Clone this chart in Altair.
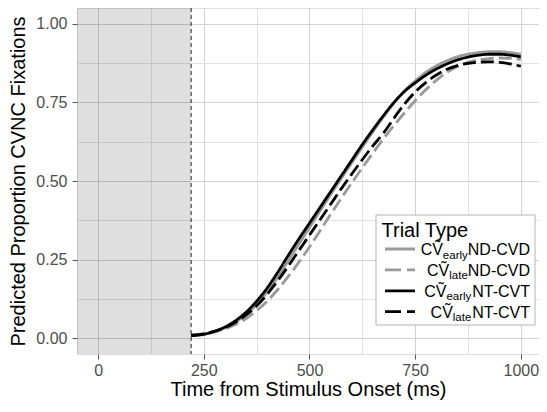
import altair as alt
import pandas as pd

# ---------------- data ----------------
time_ms = [220, 250, 275, 300, 325, 350, 375, 400, 425, 450, 475, 500, 525, 550, 575, 600,
           625, 650, 675, 700, 725, 750, 775, 800, 825, 850, 875, 900, 925, 950, 975, 1000]

early_nd_cvd = [0.008, 0.012, 0.020, 0.033, 0.051, 0.076, 0.108, 0.148, 0.195, 0.247, 0.300, 0.352,
                0.405, 0.457, 0.508, 0.558, 0.608, 0.657, 0.704, 0.748, 0.787, 0.818, 0.845, 0.866,
                0.882, 0.895, 0.903, 0.908, 0.911, 0.911, 0.908, 0.903]
late_nd_cvd = [0.010, 0.013, 0.020, 0.030, 0.044, 0.063, 0.088, 0.118, 0.155, 0.197, 0.242, 0.290,
               0.342, 0.394, 0.445, 0.494, 0.542, 0.589, 0.634, 0.677, 0.717, 0.755, 0.790, 0.820,
               0.845, 0.864, 0.877, 0.885, 0.889, 0.891, 0.890, 0.887]
early_nt_cvt = [0.008, 0.013, 0.022, 0.036, 0.056, 0.083, 0.118, 0.160, 0.210, 0.264, 0.316, 0.366,
                0.416, 0.466, 0.516, 0.566, 0.616, 0.663, 0.708, 0.750, 0.785, 0.812, 0.836, 0.856,
                0.872, 0.885, 0.894, 0.900, 0.903, 0.903, 0.900, 0.895]
late_nt_cvt = [0.010, 0.014, 0.022, 0.034, 0.051, 0.074, 0.103, 0.140, 0.183, 0.230, 0.279, 0.328,
               0.377, 0.426, 0.475, 0.522, 0.568, 0.612, 0.652, 0.700, 0.745, 0.783, 0.813, 0.837,
               0.855, 0.867, 0.874, 0.878, 0.879, 0.877, 0.872, 0.865]

series_keys = ["early_ND", "late_ND", "early_NT", "late_NT"]
series_values = [early_nd_cvd, late_nd_cvd, early_nt_cvt, late_nt_cvt]
series_colors = ["#999999", "#999999", "#000000", "#000000"]
series_dashes = [[1, 0], [13, 5], [1, 0], [13, 5]]
legend_dashes = [[1, 0], [16, 6], [1, 0], [16, 6]]

legend_title = "Trial Type"
legend_main = ["C\u1e7c", "C\u1e7c", "C\u1e7c", "C\u1e7c"]
legend_sub = ["early", "late", "early", "late"]
legend_suffix = ["ND-CVD", "ND-CVD", "NT-CVT", "NT-CVT"]

x_grid = [0, 125, 250, 375, 500, 625, 750, 875, 1000]
y_grid = [0.0, 0.125, 0.25, 0.375, 0.5, 0.625, 0.75, 0.875, 1.0]
x_domain = [-50, 1043]
y_domain = [-0.05, 1.05]
shade_end = 220

rows = []
for key, vals in zip(series_keys, series_values):
    for t, v in zip(time_ms, vals):
        rows.append({"series": key, "t": t, "p": v})
df = pd.DataFrame(rows)

# ---------------- layout ----------------
W, H = 462, 346
FONT = "Liberation Sans"

x_title = "Time from Stimulus Onset (ms)"
y_title = "Predicted Proportion CVNC Fixations"

x_major = "datum.value % 250 === 0"
y_major = "abs(datum.value*4 - round(datum.value*4)) < 1e-6"

x_axis = alt.Axis(
    values=x_grid,
    labelExpr=f"{x_major} ? format(datum.value, 'd') : ''",
    labelFontSize=16, labelColor="#4D4D4D", labelFont=FONT, labelPadding=3,
    labelOverlap=False, labelFlush=False, labelBound=False,
    tickSize=5, tickColor="#555555", tickWidth=1,
    tickOpacity={"condition": {"test": x_major, "value": 1}, "value": 0},
    gridColor={"condition": {"test": x_major, "value": "#D2D2D2"}, "value": "#E2E2E2"},
    gridWidth=1, domain=False,
    titleFontSize=20, titleFont=FONT, titleFontWeight="normal", titleColor="#000000",
    titlePadding=1,
)
y_axis = alt.Axis(
    values=y_grid,
    labelExpr=f"{y_major} ? format(datum.value, '.2f') : ''",
    labelFontSize=16, labelColor="#4D4D4D", labelFont=FONT, labelPadding=5,
    labelOverlap=False, labelFlush=False, labelBound=False,
    tickSize=5, tickColor="#555555", tickWidth=1,
    tickOpacity={"condition": {"test": y_major, "value": 1}, "value": 0},
    gridColor={"condition": {"test": y_major, "value": "#D2D2D2"}, "value": "#E2E2E2"},
    gridWidth=1, domain=False,
    titleFontSize=20, titleFont=FONT, titleFontWeight="normal", titleColor="#000000",
    titlePadding=7,
)

x_scale = alt.Scale(domain=x_domain, nice=False, zero=False)
y_scale = alt.Scale(domain=y_domain, nice=False, zero=False)

shade = alt.Chart(pd.DataFrame({"start": [x_domain[0]], "end": [shade_end]})).mark_rect(
    color="#000000", opacity=0.125
).encode(
    x=alt.X("start:Q", scale=x_scale, axis=x_axis, title=x_title),
    x2="end:Q",
    y=alt.value(0),
    y2=alt.value(H),
)

vline = alt.Chart(pd.DataFrame({"x": [shade_end]})).mark_rule(
    color="#333333", strokeDash=[4, 3], strokeWidth=1.1
).encode(x=alt.X("x:Q", scale=x_scale, axis=x_axis, title=x_title))

lines = alt.Chart(df).mark_line(strokeWidth=2.8, interpolate="monotone").encode(
    x=alt.X("t:Q", scale=x_scale, axis=x_axis, title=x_title),
    y=alt.Y("p:Q", scale=y_scale, axis=y_axis, title=y_title),
    color=alt.Color("series:N", scale=alt.Scale(domain=series_keys, range=series_colors), legend=None),
    strokeDash=alt.StrokeDash("series:N", scale=alt.Scale(domain=series_keys, range=series_dashes), legend=None),
    order=alt.Order("t:Q"),
)

# ---------------- manual legend (for subscripted labels) ----------------
one = pd.DataFrame({"k": [0]})
box_x0, box_x1, box_y0, box_y1 = 299, 458, 207, 317
legend_layers = [
    alt.Chart(one).mark_rect(fill="white", stroke="#B3B3B3", strokeWidth=1).encode(
        x=alt.value(box_x0), x2=alt.value(box_x1), y=alt.value(box_y0), y2=alt.value(box_y1)
    ),
    alt.Chart(pd.DataFrame({"label": [legend_title]})).mark_text(
        align="left", baseline="alphabetic", fontSize=20, font=FONT, color="#000000"
    ).encode(x=alt.value(304.5), y=alt.value(228.5), text="label:N"),
]

# Arial / Liberation Sans advance widths (per em)
CW = {"C": .722, "\u1e7c": .667, "V": .667, "N": .722, "D": .722, "-": .333, "T": .611,
      "e": .556, "a": .556, "r": .333, "l": .222, "y": .5, "t": .278}


def text_width(s, size):
    return sum(CW.get(ch, .556) for ch in s) * size


MAIN_FS, SUB_FS = 16, 11.5
right_edge = 453
row_y0, row_dy = 241.0, 20.9
for i in range(4):
    cy = row_y0 + i * row_dy
    legend_layers.append(
        alt.Chart(one).mark_rule(
            color=series_colors[i], strokeWidth=2.8, strokeDash=legend_dashes[i]
        ).encode(x=alt.value(308), x2=alt.value(338), y=alt.value(cy))
    )
    base = cy + 6.0
    x_suffix = right_edge
    x_sub = x_suffix - text_width(legend_suffix[i], MAIN_FS)
    x_main = x_sub - text_width(legend_sub[i], SUB_FS)
    for txt, xx, yy, fs in [
        (legend_suffix[i], x_suffix, base, MAIN_FS),
        (legend_sub[i], x_sub, base + 3.5, SUB_FS),
        (legend_main[i], x_main, base, MAIN_FS),
    ]:
        legend_layers.append(
            alt.Chart(pd.DataFrame({"label": [txt]})).mark_text(
                align="right", baseline="alphabetic", fontSize=fs, font=FONT, color="#000000"
            ).encode(x=alt.value(xx), y=alt.value(yy), text="label:N")
        )

chart = alt.layer(shade, vline, lines, *legend_layers).properties(
    width=W, height=H,
    autosize=alt.AutoSizeParams(type="none"),
    padding={"left": 69, "top": 0, "right": 0, "bottom": 46},
).configure_view(
    stroke="#666666", strokeWidth=1, fill="white"
).configure(background="white")

chart.save("out.html", embed_options={"renderer": "svg", "actions": False})
